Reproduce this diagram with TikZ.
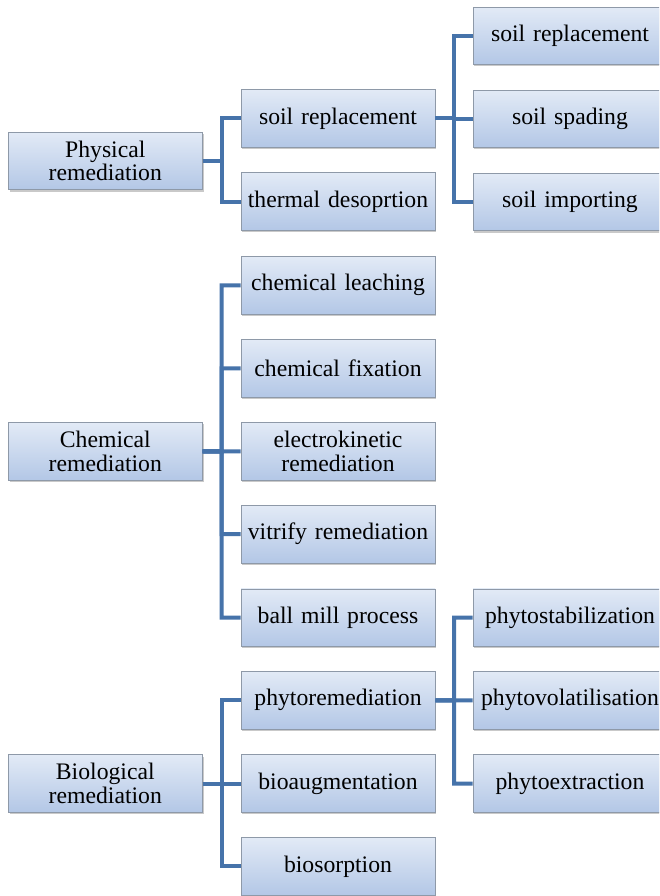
\documentclass[tikz,border=0pt]{standalone}
\usepackage{fontspec}
\setmainfont{Liberation Serif}
\usetikzlibrary{calc,shadows}
\definecolor{boxtop}{HTML}{E2EAF6}
\definecolor{boxbot}{HTML}{B3C7E6}
\definecolor{boxline}{HTML}{8E99A8}
\definecolor{connc}{HTML}{4673AA}
\tikzset{
  box/.style={rectangle, draw=boxline, line width=0.8pt,
    top color=boxtop, bottom color=boxbot,
    minimum width=194pt, minimum height=57.5pt, text width=190pt,
    align=center, inner sep=0pt,
    font=\fontsize{23.7}{23.5}\selectfont,
    drop shadow={shadow xshift=1.2pt, shadow yshift=-1.8pt, opacity=0.35, fill=black!60}},
  conn/.style={draw=connc, line width=4pt, line join=miter, line cap=butt}
}
\newcommand{\link}[2]{\draw[conn] (#1.east) -- ($(#1.east)!.5!(#1.east -| #2.west)$) |- (#2.west);}
\begin{document}
\begin{tikzpicture}[x=1pt,y=-1pt]
\clip (0,0) rectangle (659,896);
\fill[white] (0,0) rectangle (659,896);
% level 0
\node[box] (phys) at (105.3,161) {Physical\\remediation};
\node[box] (chem) at (105.3,451.3) {Chemical\\remediation};
\node[box] (bio)  at (105.3,783.5) {Biological\\remediation};
% level 1
\node[box] (sr)   at (338,118.5) {soil replacement};
\node[box] (td)   at (338,201.6) {thermal desoprtion};
\node[box] (cl)   at (338,285.3) {chemical leaching};
\node[box] (cf)   at (338,368.3) {chemical fixation};
\node[box] (ek)   at (338,451.3) {electrokinetic\\remediation};
\node[box] (vr)   at (338,534.2) {vitrify remediation};
\node[box] (bm)   at (338,617.7) {ball mill process};
\node[box] (phy)  at (338,700.3) {phytoremediation};
\node[box] (ba)   at (338,783.5) {bioaugmentation};
\node[box] (bs)   at (338,866.3) {biosorption};
% level 2
\node[box] (sr2)  at (570,35.8) {soil replacement};
\node[box] (ssp)  at (570,118.9) {soil spading};
\node[box] (sim)  at (570,202) {soil importing};
\node[box] (pst)  at (570,617.7) {phytostabilization};
\node[box] (pvo)  at (570,700.3) {phytovolatilisation};
\node[box] (pex)  at (570,783.5) {phytoextraction};
% connectors
\link{phys}{sr}\link{phys}{td}
\link{chem}{cl}\link{chem}{cf}\link{chem}{ek}\link{chem}{vr}\link{chem}{bm}
\link{bio}{phy}\link{bio}{ba}\link{bio}{bs}
\link{sr}{sr2}\link{sr}{ssp}\link{sr}{sim}
\link{phy}{pst}\link{phy}{pvo}\link{phy}{pex}
\end{tikzpicture}
\end{document}
